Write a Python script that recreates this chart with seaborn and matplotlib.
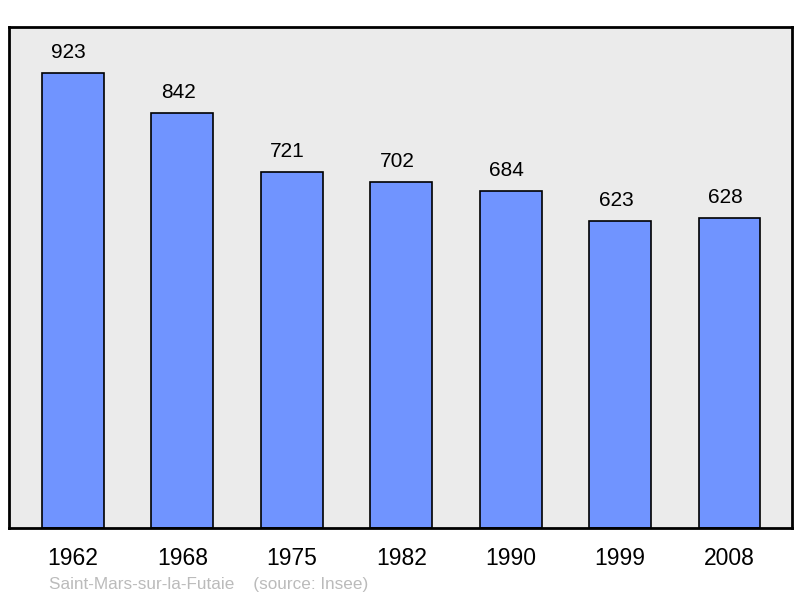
import matplotlib
matplotlib.use("Agg")
import matplotlib.pyplot as plt
import seaborn as sns
import pandas as pd

years = ["1962", "1968", "1975", "1982", "1990", "1999", "2008"]
population = [923, 842, 721, 702, 684, 623, 628]
place = "Saint-Mars-sur-la-Futaie"
source = "(source: Insee)"

sns.set_theme(style="white")
plt.rcParams["font.family"] = ["Liberation Sans", "DejaVu Sans"]

df = pd.DataFrame({"year": years, "pop": population})

fig = plt.figure(figsize=(8.0, 5.98), dpi=100)
ax = fig.add_axes([9/800, 1 - 528/598, 783/800, 501/598])
ax.set_facecolor("#ebebeb")

sns.barplot(data=df, x="year", y="pop", ax=ax, color="#7094ff", saturation=1,
            width=0.566, edgecolor="black", linewidth=1.2)

ax.set_xlim(-0.584, 6.571)
ax.set_ylim(0, 1016)
ax.set_xlabel("")
ax.set_ylabel("")
ax.set_yticks([])
ax.tick_params(axis="x", length=0, labelsize=16.5, pad=14, colors="black")
for s in ax.spines.values():
    s.set_visible(True)
    s.set_color("black")
    s.set_linewidth(2)

for i, v in enumerate(population):
    ax.annotate(str(v), (i, v), xytext=(-3, 10.8), textcoords="offset points",
                ha="center", va="baseline", fontsize=15, color="black")

fig.text(49/800, 1 - 584/598, place + "    " + source, fontsize=12.3,
         color="#bbbbbb", ha="left", va="center")

fig.savefig("out.png", dpi=100)
